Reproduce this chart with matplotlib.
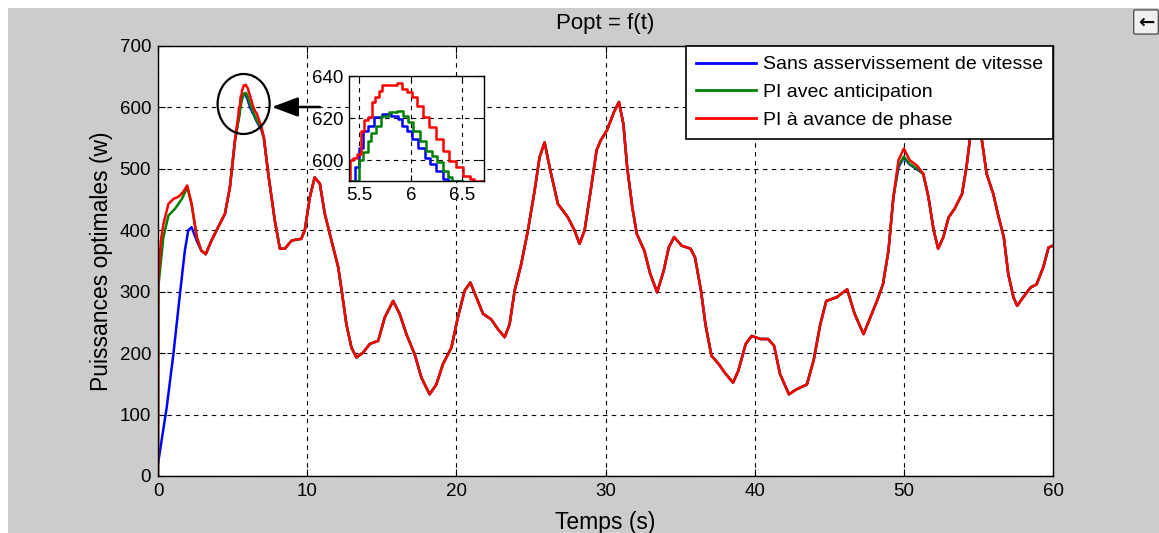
import matplotlib
matplotlib.use("Agg")
import matplotlib.pyplot as plt
from matplotlib.patches import Ellipse, Rectangle, FancyBboxPatch
import numpy as np

# ---------------- data ----------------
labels = ["Sans asservissement de vitesse", "PI avec anticipation", "PI à avance de phase"]
colors = ["#0000ff", "#008000", "#ff0000"]

# start-up segments (series specific)
t_start_blue = [0.0, 0.58, 1.03, 1.47, 1.80, 2.03, 2.25, 2.60, 2.90]
p_start_blue = [20, 111, 198, 296, 367, 400, 405, 383, 367]
t_start_green = [0.0, 0.03, 0.36, 0.70, 1.14, 1.60, 1.96, 2.25, 2.60, 2.90]
p_start_green = [0, 310, 389, 424, 435, 451, 470, 443, 389, 367]
t_start_red = [0.0, 0.02, 0.20, 0.36, 0.70, 1.03, 1.40, 1.70, 1.96, 2.25, 2.60, 2.90]
p_start_red = [0, 320, 385, 410, 443, 451, 455, 463, 473, 443, 389, 367]

# common segment before the first big peak
t_common_a = [3.20, 3.58, 4.03, 4.49, 4.82, 5.16]
p_common_a = [361, 383, 405, 427, 470, 546]

# peak around t = 6 s (series specific, seen in the zoom inset)
t_peak_blue = [5.45, 5.47, 5.52, 5.56, 5.61, 5.68, 5.76, 5.86, 5.89, 5.94, 5.99, 6.04,
               6.10, 6.17, 6.21, 6.28, 6.34, 6.38, 6.60, 6.94]
p_peak_blue = [590, 596.5, 606, 614, 616.5, 620.5, 622, 621, 619.7, 616.5, 614, 610,
               606, 601, 598, 595, 591, 590, 578, 563]
t_peak_green = [5.48, 5.52, 5.56, 5.60, 5.63, 5.69, 5.74, 5.84, 5.89, 5.95, 6.00, 6.05,
                6.12, 6.18, 6.23, 6.28, 6.34, 6.39, 6.41, 6.60, 6.94]
p_peak_green = [590, 600, 603.7, 609, 613, 616.5, 621, 623, 623.7, 621, 618, 614,
                609, 604.5, 602, 599, 595, 591.7, 590, 580, 565]
t_peak_red = [5.40, 5.42, 5.45, 5.50, 5.53, 5.56, 5.61, 5.63, 5.68, 5.71, 5.74, 5.84,
              5.89, 5.94, 5.99, 6.04, 6.08, 6.15, 6.21, 6.28, 6.34, 6.41, 6.47, 6.54,
              6.60, 6.62, 6.94]
p_peak_red = [590, 600, 601, 603, 614, 619, 620.5, 628, 630, 633, 635.7, 636,
              636.8, 634, 632.5, 630, 626, 620.5, 615.7, 610, 604.5, 599.7, 596.5, 592.5,
              591, 590, 568]

# common segment from 7 s to 49.3 s
t_common_b = [7.10, 7.39, 7.83, 8.17, 8.50, 8.95, 9.29, 9.60, 9.84, 10.18, 10.50, 10.85,
              11.18, 11.63, 12.08, 12.30, 12.63, 12.97, 13.30, 13.75, 14.20, 14.76, 15.20,
              15.76, 16.20, 16.65, 17.21, 17.66, 18.21, 18.66, 19.10, 19.67, 20.10, 20.56,
              20.94, 21.34, 21.79, 22.34, 22.79, 23.24, 23.57, 23.91, 24.35, 24.80, 25.25,
              25.58, 25.92, 26.25, 26.81, 27.48, 27.92, 28.26, 28.60, 29.04, 29.40, 29.67,
              30.10, 30.56, 30.90, 31.20, 31.45, 31.80, 32.10, 32.60, 33.00, 33.46, 33.90,
              34.24, 34.60, 35.10, 35.70, 36.00, 36.40, 36.70, 37.10, 37.60, 38.00, 38.55,
              38.90, 39.40, 39.80, 40.40, 40.90, 41.30, 41.70, 42.30, 42.80, 43.50, 43.95,
              44.40, 44.80, 45.50, 46.20, 46.70, 47.30, 47.75, 48.20, 48.60, 48.97, 49.30]
p_common_b = [550, 492, 416, 370, 370, 383, 385, 386, 400, 454, 486, 476,
              427, 383, 340, 304, 247, 209, 193, 201, 215, 220, 258,
              285, 264, 231, 198, 160, 133, 149, 182, 209, 258, 302,
              315, 291, 264, 255, 239, 226, 247, 302, 345, 400, 465,
              519, 543, 503, 443, 421, 400, 378, 400, 470, 530, 546,
              563, 592, 609, 573, 503, 437, 394, 367, 329, 299, 334,
              372, 389, 375, 370, 356, 302, 247, 196, 182, 168, 152,
              171, 215, 228, 223, 223, 212, 166, 133, 141, 149, 188,
              247, 285, 291, 304, 264, 231, 258, 285, 312, 367, 454]

# peak around t = 50 s (series specific)
t_p50 = [49.64, 50.00, 50.40, 50.90]
p_p50_blue = [503, 518, 507, 499]
p_p50_green = [505, 520, 508, 500]
p_p50_red = [514, 533, 514, 505]

# common segment to the end
t_common_c = [51.30, 51.65, 52.00, 52.30, 52.65, 53.00, 53.40, 53.90, 54.20, 54.45,
              54.85, 55.20, 55.55, 56.00, 56.30, 56.70, 57.00, 57.35, 57.60, 58.00,
              58.50, 58.90, 59.35, 59.70, 60.00]
p_common_c = [492, 454, 400, 370, 389, 421, 435, 459, 503, 552,
              595, 552, 492, 459, 427, 389, 329, 291, 277, 291,
              307, 312, 340, 372, 375]

# ---------------- assemble series ----------------
def build(ts, ps, tp, pp, p50):
    t = ts + t_common_a + tp + t_common_b + t_p50 + t_common_c
    p = ps + p_common_a + pp + p_common_b + p50 + p_common_c
    return np.array(t), np.array(p)

series = [
    build(t_start_blue, p_start_blue, t_peak_blue, p_peak_blue, p_p50_blue),
    build(t_start_green, p_start_green, t_peak_green, p_peak_green, p_p50_green),
    build(t_start_red, p_start_red, t_peak_red, p_peak_red, p_p50_red),
]

# ---------------- figure ----------------
plt.rcParams['font.family'] = ['Liberation Sans', 'DejaVu Sans']
W, H = 1159, 533
fig = plt.figure(figsize=(W / 100, H / 100), dpi=100, facecolor="white")
fig.patches.append(Rectangle((8 / W, 0), 1 - 8 / W, 1 - 8 / H, transform=fig.transFigure,
                             facecolor="#cccccc", edgecolor="none", zorder=-10))

ax = fig.add_axes([158 / W, (H - 476) / H, 895 / W, 430 / H])
ax.set_facecolor("white")
for (t, p), c, lab in zip(series, colors, labels):
    ax.plot(t, p, color=c, lw=1.8, label=lab)
ax.set_xlim(0, 60)
ax.set_ylim(0, 700)
ax.set_xticks(range(0, 61, 10))
ax.set_yticks(range(0, 701, 100))
ax.grid(True, color="black", linestyle=(0, (4, 4)), linewidth=0.8)
ax.set_axisbelow(True)
ax.tick_params(direction="in", length=5, top=True, right=True, labelsize=13.5, pad=5,
               width=0.8, color="black")
for s in ax.spines.values():
    s.set_linewidth(1.0)
    s.set_color("black")
ax.set_title("Popt = f(t)", fontsize=16, pad=12)
ax.set_xlabel("Temps (s)", fontsize=16.5, labelpad=8)
ax.set_ylabel("Puissances optimales (w)", fontsize=16.5, labelpad=5)

leg = ax.legend(loc="upper right", fontsize=14, frameon=True, fancybox=False, framealpha=1,
                borderaxespad=0, handlelength=3.1, handletextpad=0.35, labelspacing=0.53,
                borderpad=0.5)
leg.get_frame().set_edgecolor("black")
leg.get_frame().set_linewidth(1.2)
leg.set_zorder(10)
for lh in leg.get_lines():
    lh.set_linewidth(2)

# circle and arrow
ax.add_patch(Ellipse((5.74, 605.6), 3.49, 97.7, fill=False, edgecolor="black", lw=1.6, zorder=5))
ax.annotate("", xy=(7.64, 600.7), xytext=(10.86, 600.7),
            arrowprops=dict(arrowstyle="-|>,head_length=0.8,head_width=0.3",
                            color="black", lw=1.8, mutation_scale=20,
                            shrinkA=0, shrinkB=0), zorder=6)

# inset
axi = fig.add_axes([349 / W, (H - 181) / H, 135 / W, 105 / H])
axi.set_facecolor("white")
for (t, p), c in zip(series, colors):
    axi.plot(t, p, color=c, lw=1.8, drawstyle="steps-mid")
axi.set_xlim(5.4, 6.71)
axi.set_ylim(590, 640.2)
axi.set_xticks([5.5, 6, 6.5])
axi.set_xticklabels(["5.5", "6", "6.5"])
axi.set_yticks([600, 620, 640])
axi.grid(True, color="black", linestyle=(0, (4, 4)), linewidth=0.8)
axi.set_axisbelow(True)
axi.tick_params(direction="in", length=4, top=True, right=True, labelsize=13.5, pad=4,
                width=0.8)
for s in axi.spines.values():
    s.set_linewidth(1.0)

# small button in the corner
btn = FancyBboxPatch((1136 / W, (H - 33) / H), 20 / W, 22 / H, transform=fig.transFigure,
                     boxstyle="round,pad=0.002", facecolor="#f0f0f0", edgecolor="#555555",
                     lw=1.0)
fig.patches.append(btn)
fig.text(1146 / W, (H - 22) / H, "←", ha="center", va="center", fontsize=14,
         family="DejaVu Sans", fontweight="bold")

fig.savefig("out.png", dpi=100, facecolor=fig.get_facecolor())
